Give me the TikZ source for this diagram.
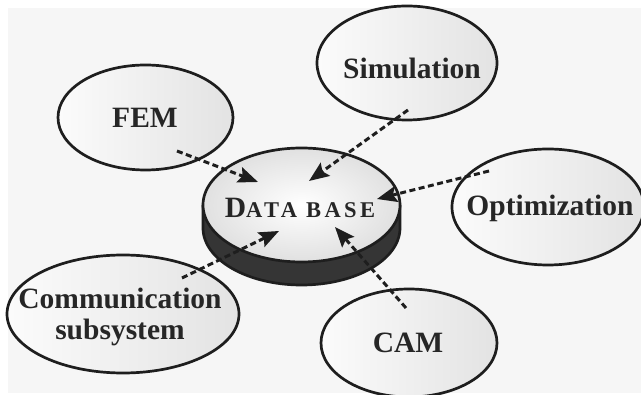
\documentclass[tikz,border=0pt]{standalone}
\usepackage{fontspec}
\setmainfont{Liberation Serif}
\usetikzlibrary{shapes.geometric,arrows.meta}
\definecolor{bggray}{HTML}{F6F6F6}
\definecolor{inkline}{HTML}{1E1E1E}
\definecolor{inktext}{HTML}{262626}
\definecolor{diskside}{HTML}{353535}
\begin{document}
\begin{tikzpicture}[x=1pt,y=-1pt,
  bubble/.style={ellipse, draw=inkline, line width=2.7pt, left color=gray!3,
    right color=gray!22, inner sep=0pt},
  caption/.style={font=\bfseries\fontsize{29.5}{31}\selectfont, text=inktext,
    align=center, inner sep=0pt},
  feed/.style={draw=inkline, line width=3pt, dash pattern=on 6pt off 3.5pt,
    -{Stealth[length=20pt,width=16pt,inset=3.5pt]}}]

% page and grey panel
\useasboundingbox (0,0) rectangle (641,395);
\fill[white] (0,0) rectangle (641,395);
\fill[bggray] (8,8) rectangle (641,393);
\clip (0,0) rectangle (641,395);

% surrounding modules
\node[bubble, minimum width=180pt, minimum height=114pt] (sim) at (407,63) {};
\node[caption] (siml) at (412,68) {Simulation};

\node[bubble, minimum width=175pt, minimum height=105pt] (fem) at (145.5,117.5) {};
\node[caption] (feml) at (145,118) {FEM};

\node[bubble, minimum width=192pt, minimum height=116pt] (opt) at (548,207) {};
\node[caption] (optl) at (550,208) {Optimization};

\node[bubble, minimum width=176pt, minimum height=108pt] (cam) at (409,343) {};
\node[caption] (caml) at (408,343) {CAM};

\node[bubble, minimum width=232pt, minimum height=118pt] (comm) at (123,314) {};
\node[caption] (comml) at (120,317) {Communication\\subsystem};

% central data base disk: dark side band, then the lit top face
\fill[diskside] (203,205) -- (203,228)
  arc[start angle=180, end angle=360, x radius=98.5pt, y radius=57pt]
  -- (400,205) -- cycle;
\draw[inkline, line width=2.7pt] (203,205) -- (203,228)
  arc[start angle=180, end angle=360, x radius=98.5pt, y radius=57pt]
  -- (400,205);
\node[bubble, minimum width=197pt, minimum height=114pt,
  inner color=white, outer color=gray!24] (db) at (301.5,205) {};
\node[caption] (dbl) at (300,208)
  {\addfontfeature{LetterSpace=15}D\fontsize{22.5}{24}\selectfont ATA BASE};

% data flows into the data base
\coordinate (femtail) at (177,151);  \coordinate (femtip) at (258,182);
\coordinate (simtail) at (408,110);  \coordinate (simtip) at (309,181);
\coordinate (opttail) at (489,171);  \coordinate (opttip) at (377,199);
\coordinate (camtail) at (406,308);  \coordinate (camtip) at (335,227);
\coordinate (commtail) at (182,278); \coordinate (commtip) at (279,231);

\draw[feed] (femtail) -- (femtip);
\draw[feed] (simtail) -- (simtip);
\draw[feed] (opttail) -- (opttip);
\draw[feed] (camtail) -- (camtip);
\draw[feed] (commtail) -- (commtip);
\end{tikzpicture}
\end{document}
